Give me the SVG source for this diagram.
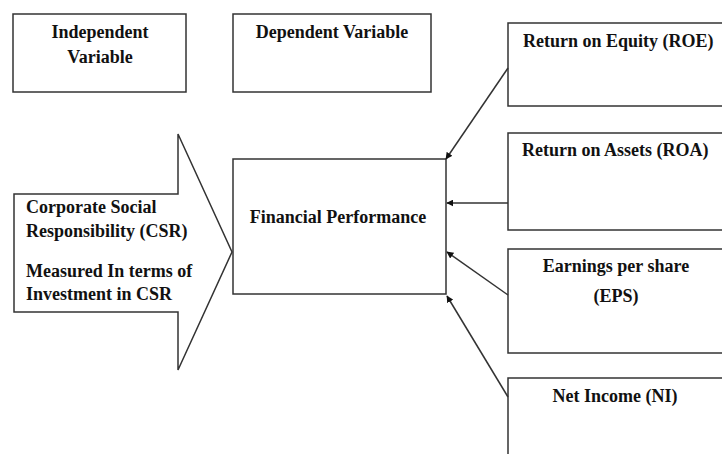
<svg xmlns="http://www.w3.org/2000/svg" width="722" height="454" viewBox="0 0 722 454">
<style>
.box{fill:#fff;stroke:#333;stroke-width:1.5}
.t{font-family:"Liberation Serif","Times New Roman",serif;font-weight:bold;font-size:18px;fill:#111}
.c{text-anchor:middle}
.ln{stroke:#333;stroke-width:1.5;fill:none}
</style>
<defs>
<marker id="ah" viewBox="0 0 10 10" refX="9" refY="5" markerWidth="7" markerHeight="7" markerUnits="userSpaceOnUse" orient="auto">
<path d="M0,0 L10,5 L0,10 Z" fill="#111"/>
</marker>
</defs>
<rect width="722" height="454" fill="#fff"/>
<g id="independent">
<rect class="box" x="13" y="14" width="173" height="78"/>
<text class="t c" x="100" y="38">Independent</text>
<text class="t c" x="100" y="63">Variable</text>
</g>
<g id="dependent">
<rect class="box" x="233" y="14" width="198" height="78"/>
<text class="t c" x="332" y="38">Dependent Variable</text>
</g>
<g id="csr">
<path class="box" d="M14,194 L178,194 L178,134 L232,252 L178,370 L178,312 L14,312 Z"/>
<text class="t" x="26" y="213">Corporate Social</text>
<text class="t" x="26" y="237">Responsibility (CSR)</text>
<text class="t" x="26" y="277">Measured In terms of</text>
<text class="t" x="26" y="300">Investment in CSR</text>
</g>
<g id="financial">
<rect class="box" x="233" y="159" width="213" height="135"/>
<text class="t c" x="338" y="223">Financial Performance</text>
</g>
<g id="roe">
<rect class="box" x="508" y="23" width="222" height="83"/>
<text class="t" x="523" y="47">Return on Equity (ROE)</text>
</g>
<g id="roa">
<rect class="box" x="508" y="133" width="222" height="97"/>
<text class="t" x="522" y="156">Return on Assets (ROA)</text>
</g>
<g id="eps">
<rect class="box" x="508" y="249" width="222" height="104"/>
<text class="t c" x="616" y="272">Earnings per share</text>
<text class="t c" x="616" y="302">(EPS)</text>
</g>
<g id="ni">
<rect class="box" x="508" y="378" width="222" height="90"/>
<text class="t c" x="615" y="402">Net Income (NI)</text>
</g>
<g id="connectors">
<line class="ln" x1="508" y1="68" x2="446" y2="159" marker-end="url(#ah)"/>
<line class="ln" x1="508" y1="203" x2="447" y2="203" marker-end="url(#ah)"/>
<line class="ln" x1="508" y1="295" x2="447" y2="252" marker-end="url(#ah)"/>
<line class="ln" x1="508" y1="397" x2="447" y2="296" marker-end="url(#ah)"/>
</g>
</svg>
